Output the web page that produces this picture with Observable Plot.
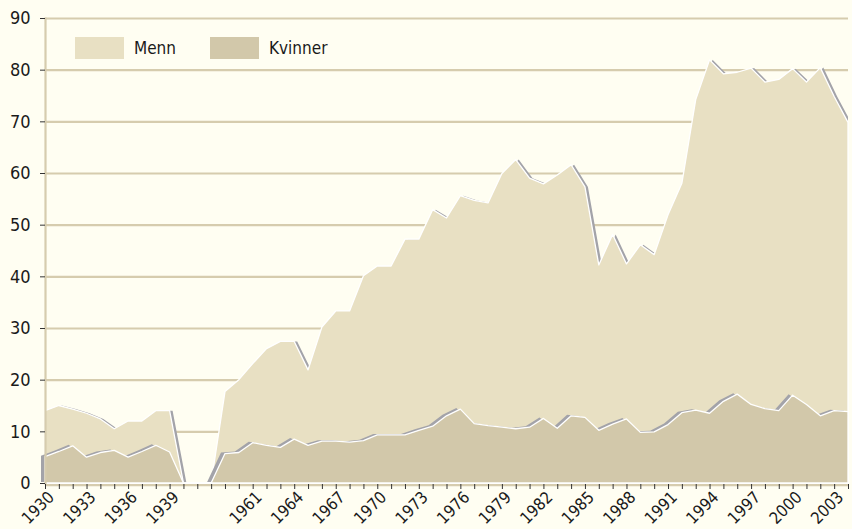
<!DOCTYPE html>
<html>
<head>
<meta charset="utf-8">
<script src="https://cdn.jsdelivr.net/npm/d3@7"></script>
<script src="https://cdn.jsdelivr.net/npm/@observablehq/plot@0.6"></script>
<style>
  html, body { margin: 0; padding: 0; background: #fffef2; }
  #wrap { position: relative; width: 852px; height: 529px; background: #fffef2; font-family: "DejaVu Sans Condensed", "DejaVu Sans", sans-serif; color: #1a1a1a; }
  #legend { position: absolute; left: 75px; top: 37px; display: flex; align-items: center; font-size: 17px; }
  .sw { width: 49px; height: 22px; display: inline-block; }
  .lab { margin-left: 10px; margin-right: 34px; }
</style>
</head>
<body>
<div id="wrap">
  <div id="chart"></div>
  <div id="legend"></div>
</div>
<script>
const categories = ["1930","1931","1932","1933","1934","1935","1936","1937","1938","1939",
  "1940","1945","1950","1955",
  "1960","1961","1962","1963","1964","1965","1966","1967","1968","1969",
  "1970","1971","1972","1973","1974","1975","1976","1977","1978","1979",
  "1980","1981","1982","1983","1984","1985","1986","1987","1988","1989",
  "1990","1991","1992","1993","1994","1995","1996","1997","1998","1999",
  "2000","2001","2002","2003","2004"];

const menn = [14.0,15.0,14.3,13.5,12.4,10.5,12.0,12.0,14.0,14.0,
  0,0,0,17.7,
  20.0,23.1,26.0,27.4,27.4,21.9,30.2,33.3,33.3,40.1,
  42.0,42.0,47.2,47.2,52.9,51.3,55.6,54.7,54.2,59.9,
  62.6,59.0,57.9,59.6,61.6,57.3,42.2,48.1,42.4,46.1,
  44.2,51.9,58.0,74.2,81.9,79.2,79.5,80.3,77.6,78.1,
  80.2,77.6,80.4,74.8,69.8];

const kvinner = [5.1,6.1,7.2,5.0,5.9,6.3,5.0,6.1,7.3,6.0,
  0,0,0,5.7,
  5.9,7.8,7.3,6.9,8.5,7.3,8.1,8.1,7.9,8.2,
  9.3,9.3,9.3,10.2,11.0,13.0,14.3,11.5,11.1,10.8,
  10.5,10.8,12.5,10.6,13.0,12.7,10.2,11.4,12.4,9.8,
  9.9,11.3,13.6,14.1,13.5,15.8,17.2,15.2,14.4,14.0,
  17.0,15.2,13.0,14.0,13.8];

const tickLabels = ["1930","1933","1936","1939","1961","1964","1967","1970","1973","1976",
  "1979","1982","1985","1988","1991","1994","1997","2000","2003"];

const yTicks = [0,10,20,30,40,50,60,70,80,90];

const seriesNames = ["Menn", "Kvinner"];
const seriesColors = ["#e8e0c3", "#d2c8aa"];

const data = categories.map((c, i) => ({year: c, menn: menn[i], kvinner: kvinner[i]}));

const gridColor = "#d6ccae";
const shadow = "#a3a3a9";

const chart = Plot.plot({
  width: 852,
  height: 529,
  marginLeft: 45,
  marginRight: 4,
  marginTop: 18,
  marginBottom: 46,
  style: {background: "transparent", fontFamily: "\"DejaVu Sans Condensed\", \"DejaVu Sans\", sans-serif", color: "#1a1a1a"},
  x: {type: "point", domain: categories, padding: 0},
  y: {domain: [0, 90]},
  marks: [
    Plot.gridY(yTicks.filter(d => d > 0), {stroke: gridColor, strokeOpacity: 1, strokeWidth: 2.2}),
    // shadows
    Plot.areaY(data, {x: "year", y: "menn", fill: shadow, dx: 3, curve: "linear", clip: true}),
    Plot.areaY(data, {x: "year", y: "menn", fill: seriesColors[0], stroke: "white", strokeWidth: 1.3, curve: "linear"}),
    Plot.areaY(data, {x: "year", y: "kvinner", fill: shadow, dx: -4, dy: -1, curve: "linear"}),
    Plot.areaY(data, {x: "year", y: "kvinner", fill: seriesColors[1], stroke: "white", strokeWidth: 1.3, curve: "linear"}),
    Plot.ruleY([0], {stroke: gridColor, strokeWidth: 2.2, dy: 1.6}),
    Plot.frame({anchor: "left", stroke: gridColor, strokeWidth: 2.2}),
    Plot.axisY(yTicks, {tickSize: 5, tickPadding: 10, fontSize: 18, label: null, stroke: "#333"}),
    Plot.axisX(categories, {tickSize: 5, tickFormat: () => "", label: null, stroke: "#333", dy: 1}),
    Plot.axisX(categories, {tickSize: 0, tickPadding: 11, tickRotate: -45, fontSize: 16.5, label: null, dx: 6,
      tickFormat: d => tickLabels.includes(d) ? d : ""})
  ]
});
document.getElementById("chart").appendChild(chart);

const legend = document.getElementById("legend");
seriesNames.forEach((n, i) => {
  const s = document.createElement("span"); s.className = "sw"; s.style.background = seriesColors[i];
  const t = document.createElement("span"); t.className = "lab"; t.textContent = n;
  legend.appendChild(s); legend.appendChild(t);
});
</script>
</body>
</html>
